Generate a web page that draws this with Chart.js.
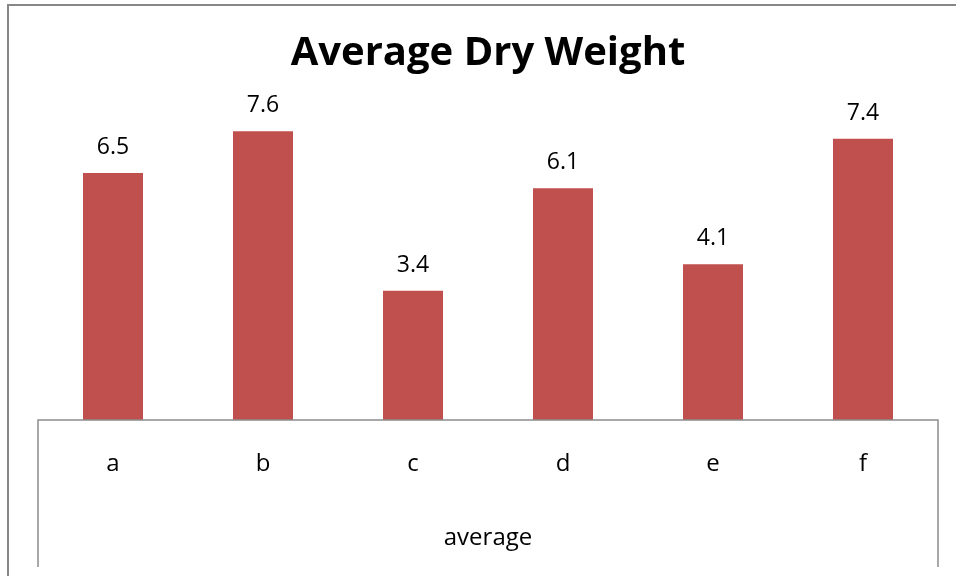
<!DOCTYPE html>
<html>
<head>
<meta charset="utf-8">
<title>Average Dry Weight</title>
<script src="https://cdn.jsdelivr.net/npm/chart.js@4.4.1/dist/chart.umd.min.js"></script>
<style>
  html, body { margin: 0; padding: 0; background: #fff; overflow: hidden; }
  #wrap { position: relative; width: 956px; height: 576px; }
  #frame {
    position: absolute; left: 7px; top: 4px; right: -10px; bottom: -10px;
    border-left: 2px solid #878787; border-top: 2px solid #878787;
  }
  #chart { position: absolute; left: 0; top: 0; }
</style>
</head>
<body>
<div id="wrap">
  <div id="frame"></div>
  <canvas id="chart" width="956" height="576"></canvas>
</div>
<script>
const categories = ['a', 'b', 'c', 'd', 'e', 'f'];
const dryWeight = [6.5, 7.6, 3.4, 6.1, 4.1, 7.4];
const groupLabel = 'average';

Chart.defaults.font.family = "'Open Sans', 'Noto Sans', sans-serif";
Chart.defaults.color = '#000';

// value labels above each bar
const barValues = {
  id: 'barValues',
  afterDatasetsDraw(chart) {
    const ctx = chart.ctx;
    const meta = chart.getDatasetMeta(0);
    ctx.save();
    ctx.font = "23px 'Open Sans', sans-serif";
    ctx.fillStyle = '#000';
    ctx.textAlign = 'center';
    ctx.textBaseline = 'alphabetic';
    meta.data.forEach((bar, i) => {
      ctx.fillText(String(dryWeight[i]), bar.x, bar.y - 19);
    });
    ctx.restore();
  }
};

// box around the category axis (top line plus the two side lines)
const axisBox = {
  id: 'axisBox',
  afterDraw(chart) {
    const { ctx, chartArea } = chart;
    const xs = chart.scales.x;
    const yEnd = xs.bottom - 9;
    ctx.save();
    ctx.strokeStyle = '#8c8c8c';
    ctx.lineWidth = 1.5;
    ctx.beginPath();
    ctx.moveTo(chartArea.left, yEnd);
    ctx.lineTo(chartArea.left, chartArea.bottom);
    ctx.lineTo(chartArea.right, chartArea.bottom);
    ctx.lineTo(chartArea.right, yEnd);
    ctx.stroke();
    ctx.restore();
  }
};

new Chart(document.getElementById('chart'), {
  type: 'bar',
  data: {
    labels: categories,
    datasets: [{
      data: dryWeight,
      backgroundColor: '#C0504D',
      barPercentage: 0.4,
      categoryPercentage: 1.0
    }]
  },
  options: {
    responsive: false,
    animation: false,
    layout: { padding: { left: 38, right: 18, top: 0, bottom: 0 } },
    plugins: {
      legend: { display: false },
      tooltip: { enabled: false },
      title: {
        display: true,
        text: 'Average Dry Weight',
        color: '#000',
        font: { size: 40, weight: 'bold' },
        padding: { top: 30, bottom: 0 }
      }
    },
    scales: {
      y: { display: false, min: 0, max: 9 },
      x: {
        grid: { display: false, drawTicks: false },
        border: { display: false },
        ticks: { font: { size: 24 }, color: '#000', padding: 30 },
        title: {
          display: true,
          text: groupLabel,
          color: '#000',
          font: { size: 24 },
          padding: { top: 0, bottom: 23 }
        },
        afterFit(scale) { scale.height = 156; }
      }
    }
  },
  plugins: [barValues, axisBox]
});
</script>
</body>
</html>
